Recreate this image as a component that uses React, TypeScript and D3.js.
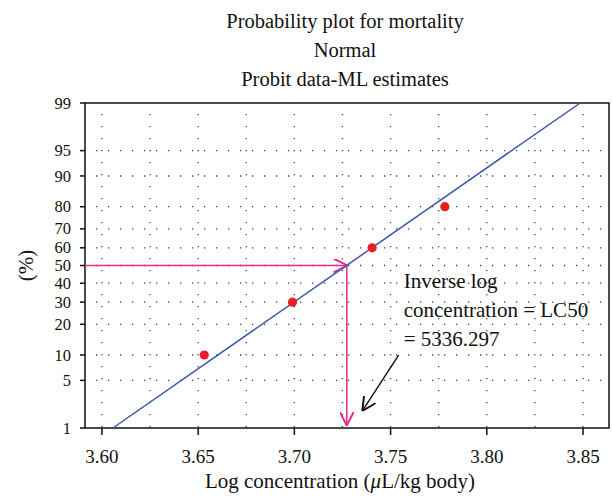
import { useEffect, useRef } from 'react'
import * as d3 from 'd3'

// observed points (log10 concentration vs % mortality)
const concLog = [3.6532, 3.699, 3.7404, 3.7782]
const mortality = [10, 30, 60, 80]

// fitted probit line (ends at 1% and 99%)
const fitLog = [3.6057, 3.8485]
const fitPct = [1, 99]

const lc50 = 5336.297

const xTicks = [3.6, 3.65, 3.7, 3.75, 3.8, 3.85]
const xGrid = [3.6, 3.625, 3.65, 3.675, 3.7, 3.725, 3.75, 3.775, 3.8, 3.825, 3.85]
const yTicks = [1, 5, 10, 20, 30, 40, 50, 60, 70, 80, 90, 95, 99]
const yGrid = [5, 10, 20, 30, 40, 50, 60, 70, 80, 90, 95]

const titleLines = ['Probability plot for mortality', 'Normal', 'Probit data-ML estimates']
const noteLines = ['Inverse log', 'concentration = LC50', '= 5336.297']
// annotation arrow, in data units [log conc, %]
const noteArrow = [
  [3.7542, 10],
  [3.7355, 1.9],
]

// inverse normal cdf (Acklam)
function probit(p: number): number {
  const a = [-39.69683028665376, 220.9460984245205, -275.9285104469687, 138.357751867269, -30.66479806614716, 2.506628277459239]
  const b = [-54.47609879822406, 161.5858368580409, -155.6989798598866, 66.80131188771972, -13.28068155288572]
  const c = [-0.007784894002430293, -0.3223964580411365, -2.400758277161838, -2.549732539343734, 4.374664141464968, 2.938163982698783]
  const d = [0.007784695709041462, 0.3224671290700398, 2.445134137142996, 3.754408661907416]
  const pl = 0.02425
  if (p < pl) {
    const q = Math.sqrt(-2 * Math.log(p))
    return (((((c[0] * q + c[1]) * q + c[2]) * q + c[3]) * q + c[4]) * q + c[5]) / ((((d[0] * q + d[1]) * q + d[2]) * q + d[3]) * q + 1)
  }
  if (p > 1 - pl) {
    const q = Math.sqrt(-2 * Math.log(1 - p))
    return -(((((c[0] * q + c[1]) * q + c[2]) * q + c[3]) * q + c[4]) * q + c[5]) / ((((d[0] * q + d[1]) * q + d[2]) * q + d[3]) * q + 1)
  }
  const q = p - 0.5
  const r = q * q
  return ((((((a[0] * r + a[1]) * r + a[2]) * r + a[3]) * r + a[4]) * r + a[5]) * q) / (((((b[0] * r + b[1]) * r + b[2]) * r + b[3]) * r + b[4]) * r + 1)
}

export default () => {
  const rootRef = useRef<SVGSVGElement>(null)

  useEffect(() => {
    const W = 613,
      H = 499
    const margin = { top: 103, right: 4, bottom: 71, left: 85 }

    const root = d3
      .select(rootRef.current)
      .attr('width', W)
      .attr('height', H)
      .style('font-family', 'Liberation Serif')
    root.selectAll('*').remove()

    const x = d3.scaleLinear().domain([3.5912, 3.8635]).range([margin.left, W - margin.right])
    const zScale = d3
      .scaleLinear()
      .domain([probit(0.01), probit(0.99)])
      .range([H - margin.bottom, margin.top])
    const y = (pct: number) => zScale(probit(pct / 100))

    const x0 = margin.left,
      x1 = W - margin.right,
      yb = H - margin.bottom,
      yt = margin.top

    const defs = root.append('defs')
    const addMarker = (id: string, color: string, size: number) => {
      defs
        .append('marker')
        .attr('id', id)
        .attr('viewBox', '0 0 10 10')
        .attr('refX', 9.5)
        .attr('refY', 5)
        .attr('markerWidth', size)
        .attr('markerHeight', size)
        .attr('markerUnits', 'userSpaceOnUse')
        .attr('orient', 'auto')
        .append('path')
        .attr('d', 'M0,0 L10,5 L0,10')
        .attr('fill', 'none')
        .attr('stroke', color)
        .attr('stroke-width', 1.4)
    }
    addMarker('pinkHead', '#e8288c', 14)
    addMarker('blackHead', '#111', 14)

    // titles
    root
      .append('g')
      .selectAll('text')
      .data(titleLines)
      .join('text')
      .attr('x', 345)
      .attr('y', (_, i) => 28 + i * 29)
      .attr('text-anchor', 'middle')
      .attr('font-size', 20.5)
      .attr('fill', '#111')
      .text((d) => d)

    // dotted grid
    const grid = root.append('g').attr('stroke', '#444').attr('stroke-width', 1.3).attr('stroke-dasharray', '1.3,10.7')
    grid
      .selectAll('line.h')
      .data(yGrid)
      .join('line')
      .attr('x1', x0 + 11)
      .attr('x2', x1)
      .attr('y1', (d) => y(d))
      .attr('y2', (d) => y(d))
    grid
      .selectAll('line.v')
      .data(xGrid)
      .join('line')
      .attr('x1', (d) => x(d))
      .attr('x2', (d) => x(d))
      .attr('y1', yt + 11)
      .attr('y2', yb)

    // frame
    root
      .append('rect')
      .attr('x', x0)
      .attr('y', yt)
      .attr('width', x1 - x0)
      .attr('height', yb - yt)
      .attr('fill', 'none')
      .attr('stroke', '#111')
      .attr('stroke-width', 1.5)

    // y axis
    const yAx = root.append('g')
    yAx
      .selectAll('line')
      .data(yTicks)
      .join('line')
      .attr('x1', x0 - 5)
      .attr('x2', x0)
      .attr('y1', (d) => y(d))
      .attr('y2', (d) => y(d))
      .attr('stroke', '#111')
      .attr('stroke-width', 1.5)
    yAx
      .selectAll('text')
      .data(yTicks)
      .join('text')
      .attr('x', x0 - 14)
      .attr('y', (d) => y(d))
      .attr('dy', '0.34em')
      .attr('text-anchor', 'end')
      .attr('font-size', 16.5)
      .attr('fill', '#111')
      .text((d) => d)

    // x axis
    const xAx = root.append('g')
    xAx
      .selectAll('line')
      .data(xTicks)
      .join('line')
      .attr('x1', (d) => x(d))
      .attr('x2', (d) => x(d))
      .attr('y1', yb)
      .attr('y2', yb + 7)
      .attr('stroke', '#111')
      .attr('stroke-width', 1.5)
    xAx
      .selectAll('text')
      .data(xTicks)
      .join('text')
      .attr('x', (d) => x(d))
      .attr('y', yb + 35)
      .attr('text-anchor', 'middle')
      .attr('font-size', 19)
      .attr('fill', '#111')
      .text((d) => d3.format('.2f')(d))

    // axis titles
    const xt = root
      .append('text')
      .attr('x', 340)
      .attr('y', 488)
      .attr('text-anchor', 'middle')
      .attr('font-size', 21)
      .attr('fill', '#111')
    xt.append('tspan').text('Log concentration (')
    xt.append('tspan').attr('font-style', 'italic').text('\u03bc')
    xt.append('tspan').text('L/kg body)')

    root
      .append('text')
      .attr('transform', `translate(33,${y(50)}) rotate(-90)`)
      .attr('text-anchor', 'middle')
      .attr('font-size', 21)
      .attr('fill', '#111')
      .text('(%)')

    // LC50 guide lines
    const lcX = x(Math.log10(lc50))
    root
      .append('line')
      .attr('x1', x0)
      .attr('x2', lcX)
      .attr('y1', y(50))
      .attr('y2', y(50))
      .attr('stroke', '#e8288c')
      .attr('stroke-width', 1.5)
      .attr('marker-end', 'url(#pinkHead)')
    root
      .append('line')
      .attr('x1', lcX)
      .attr('x2', lcX)
      .attr('y1', y(50))
      .attr('y2', yb - 3)
      .attr('stroke', '#e8288c')
      .attr('stroke-width', 1.5)
      .attr('marker-end', 'url(#pinkHead)')

    // fitted line
    root
      .append('path')
      .datum(d3.zip(fitLog, fitPct))
      .attr('fill', 'none')
      .attr('stroke', '#3a58ab')
      .attr('stroke-width', 1.5)
      .attr(
        'd',
        d3
          .line<number[]>()
          .x((d) => x(d[0]))
          .y((d) => y(d[1]))
      )

    // observed points
    root
      .append('g')
      .selectAll('circle')
      .data(d3.zip(concLog, mortality))
      .join('circle')
      .attr('cx', (d) => x(d[0]))
      .attr('cy', (d) => y(d[1]))
      .attr('r', 4.6)
      .attr('fill', '#ea1c24')

    // annotation
    root
      .append('g')
      .selectAll('text')
      .data(noteLines)
      .join('text')
      .attr('x', x(3.7568))
      .attr('y', (_, i) => y(50) + 22.5 + i * 29)
      .attr('font-size', 21)
      .attr('fill', '#111')
      .text((d) => d)

    root
      .append('path')
      .datum(noteArrow)
      .attr('fill', 'none')
      .attr('stroke', '#111')
      .attr('stroke-width', 1.4)
      .attr('marker-end', 'url(#blackHead)')
      .attr(
        'd',
        d3
          .line<number[]>()
          .x((d) => x(d[0]))
          .y((d) => y(d[1]))
      )
  }, [])

  return <svg ref={rootRef} style={{ position: 'absolute', left: 0, top: 0 }}></svg>
}
